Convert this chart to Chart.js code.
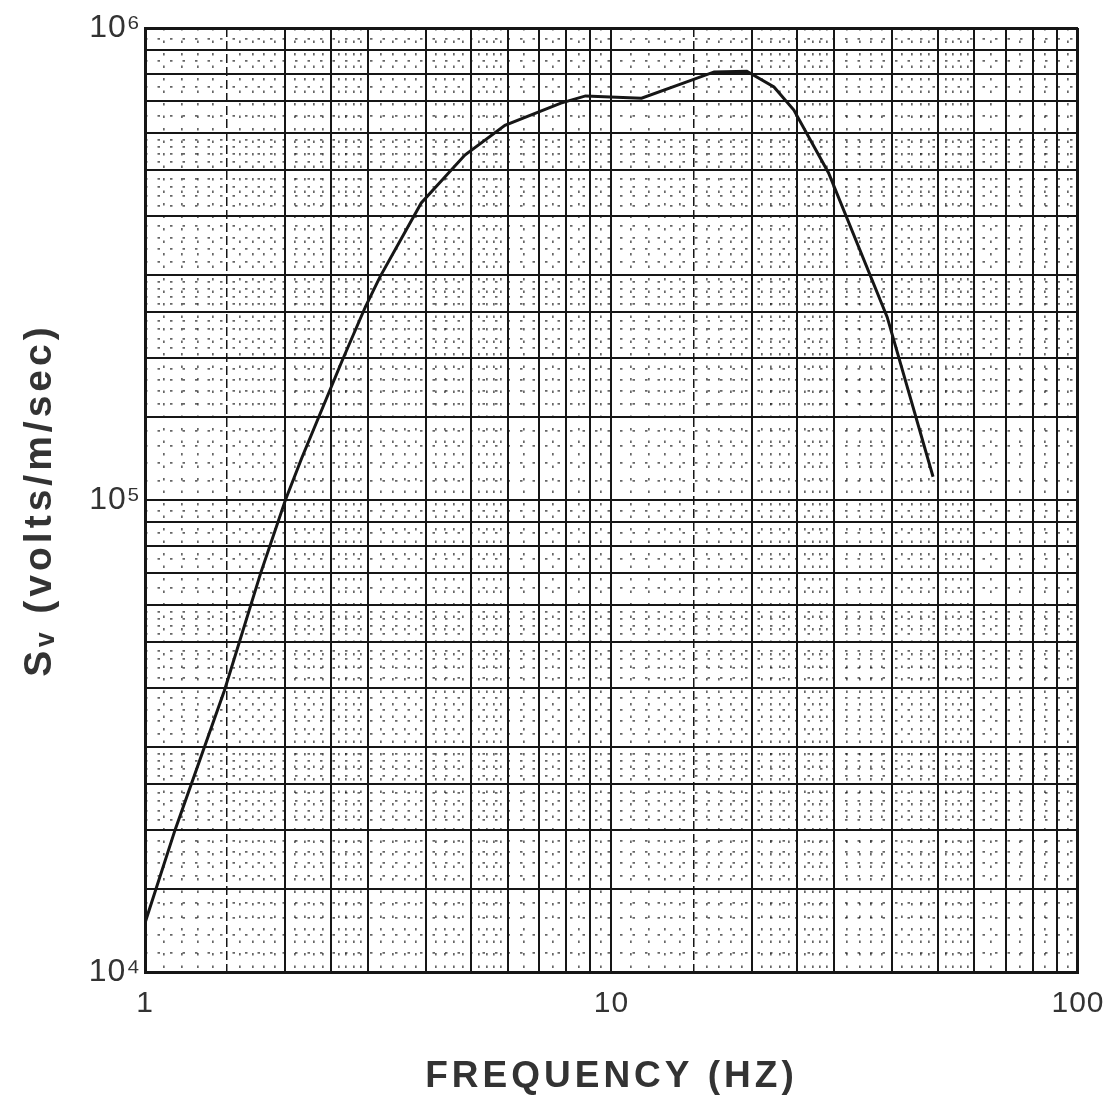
<!DOCTYPE html>
<html>
<head>
<meta charset="utf-8">
<script src="https://cdn.jsdelivr.net/npm/chart.js@4.4.0/dist/chart.umd.min.js"></script>
<style>
  html, body { margin: 0; padding: 0; background: #fff; }
  canvas { display: block; }
</style>
</head>
<body>
<canvas id="chart" width="1117" height="1095"></canvas>
<script>
// curve (Hz, volts/m/sec)
const freqs = [1, 1.16, 1.48, 1.77, 2.0, 2.17, 2.65, 2.97, 3.19, 3.91, 4.85, 5.91, 7.79, 8.8, 11.6, 14.5, 16.6, 19.5, 22.3, 24.6, 29.2, 39.0, 48.9];
const sv = [12700, 20000, 39500, 70000, 100000, 123000, 198000, 257000, 297000, 426000, 538000, 622000, 693000, 718000, 710000, 769000, 807000, 810000, 750000, 670000, 493000, 244000, 112000];

// log paper rulings (mantissas inside one decade)
const xDecades = [1, 10];
const yDecades = [1e4, 1e5];
const solidMant = [1, 2, 2.5, 3, 4, 5, 6, 7, 8, 9];
const dashMant = [1.5];
const dotMant = [1.1, 1.2, 1.3, 1.4, 1.6, 1.7, 1.8, 1.9, 2.1, 2.2, 2.3, 2.4, 2.6, 2.7, 2.8, 2.9,
                 3.2, 3.4, 3.6, 3.8, 4.2, 4.4, 4.6, 4.8, 5.2, 5.4, 5.6, 5.8, 6.5, 7.5, 8.5, 9.5];

const xTickValues = [1, 10, 100];
const xTickText = ['1', '10', '100'];
const yTickValues = [1e4, 1e5, 1e6];
const yTickText = ['10\u2074', '10\u2075', '10\u2076'];

const ink = '#161616';
const textInk = '#333333';
const fontFam = "'Liberation Sans', 'DejaVu Sans', sans-serif";

function rulings(mants, decades, top) {
    let out = [];
    decades.forEach(d => mants.forEach(m => out.push(m * d)));
    if (top) out.push(top);
    return out;
}

const xSolid = rulings(solidMant, xDecades, 100);
const ySolid = rulings(solidMant.concat(dashMant), yDecades, 1e6);
const xDash = rulings(dashMant, xDecades);
const xDots = rulings(dotMant, xDecades);
const yDots = rulings(dotMant, yDecades);

function setTicks(list) {
    return function (scale) {
        scale.ticks = list.map(v => ({ value: v }));
    };
}

function edgeWidth(lo, hi) {
    return function (ctx) {
        let v = ctx.tick ? ctx.tick.value : 0;
        return (Math.abs(v - lo) < 1e-9 * hi || Math.abs(v - hi) < 1e-9 * hi) ? 3 : 2;
    };
}

function minorAxis(pos, min, max, list, dash, color, width) {
    return {
        type: 'logarithmic', position: pos, min: min, max: max,
        afterBuildTicks: setTicks(list),
        afterFit: s => { if (pos === 'bottom') s.height = 0; else s.width = 0; },
        ticks: { display: false },
        grid: { color: color, lineWidth: width, drawTicks: false },
        border: { display: false, dash: dash }
    };
}

// titles are widely tracked, tick numbers less so (ticks drawn after the datasets, z: 1)
const tracking = {
    id: 'tracking',
    beforeDraw: chart => { chart.ctx.letterSpacing = '4px'; },
    afterDatasetsDraw: chart => { chart.ctx.letterSpacing = '1px'; }
};

const data = {
    datasets: [{
        data: freqs.map((f, i) => ({ x: f, y: sv[i] })),
        borderColor: ink,
        borderWidth: 3,
        pointRadius: 0,
        tension: 0,
        fill: false
    }]
};

const config = {
    type: 'line',
    data: data,
    plugins: [tracking],
    options: {
        responsive: false,
        animation: false,
        layout: { padding: { top: 28, right: 34, left: 0, bottom: 0 } },
        plugins: { legend: { display: false }, tooltip: { enabled: false } },
        scales: {
            xDot: minorAxis('bottom', 1, 100, xDots, [2.5, 10], 'rgba(0,0,0,0.6)', 1.7),
            yDot: minorAxis('left', 1e4, 1e6, yDots, [2.5, 10], 'rgba(0,0,0,0.6)', 1.7),
            xDash: minorAxis('bottom', 1, 100, xDash, [9, 4], ink, 1.5),
            x: {
                type: 'logarithmic', position: 'bottom', min: 1, max: 100,
                afterBuildTicks: setTicks(xSolid),
                afterFit: s => { s.height = 123; },
                grid: { color: ink, lineWidth: edgeWidth(1, 100), drawTicks: false },
                border: { display: true, color: ink, width: 3 },
                ticks: {
                    z: 1, autoSkip: false, maxRotation: 0, padding: 14, color: textInk,
                    font: { family: fontFam, size: 30 },
                    callback: v => {
                        let i = xTickValues.indexOf(v);
                        return i >= 0 ? xTickText[i] : '';
                    }
                },
                title: {
                    display: true, text: 'FREQUENCY (HZ)', color: textInk,
                    font: { family: fontFam, size: 37, weight: 'bold' },
                    padding: { top: 30, bottom: -4 }
                }
            },
            y: {
                type: 'logarithmic', position: 'left', min: 1e4, max: 1e6,
                afterBuildTicks: setTicks(ySolid),
                afterFit: s => { s.width = 145; },
                grid: { color: ink, lineWidth: edgeWidth(1e4, 1e6), drawTicks: false },
                border: { display: true, color: ink, width: 3 },
                ticks: {
                    z: 1, autoSkip: false, padding: 4, color: textInk,
                    font: { family: fontFam, size: 32 },
                    callback: v => {
                        let i = yTickValues.indexOf(v);
                        return i >= 0 ? yTickText[i] : '';
                    }
                },
                title: {
                    display: true, text: 'S\u1d65 (volts/m/sec)', color: textInk,
                    font: { family: fontFam, size: 39, weight: 'bold' },
                    padding: { top: 17, bottom: 0 }
                }
            }
        }
    }
};

var myChart = new Chart(document.getElementById('chart'), config);
</script>
</body>
</html>
